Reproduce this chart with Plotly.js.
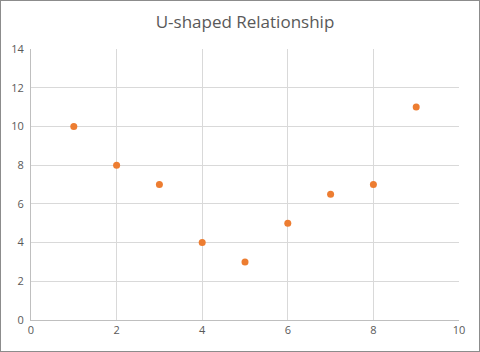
<!DOCTYPE html>
<html>
<head>
<meta charset="utf-8">
<script src="https://cdn.plot.ly/plotly-3.0.1.min.js"></script>
<style>
html,body{margin:0;padding:0;background:#fff;}
#frame{position:absolute;left:0;top:0;width:480px;height:352px;box-sizing:border-box;border:1px solid #8c8c8c;}
#chart{position:absolute;left:1px;top:1px;width:478px;height:350px;}
</style>
</head>
<body>
<div id="frame"></div>
<div id="chart"></div>
<script>
const xValues = [1, 2, 3, 4, 5, 6, 7, 8, 9];
const yValues = [10, 8, 7, 4, 3, 5, 6.5, 7, 11];
const chartTitle = "U-shaped Relationship";

const font = "Open Sans, Liberation Sans, sans-serif";
Plotly.newPlot('chart', [{
  type: 'scatter',
  mode: 'markers',
  x: xValues,
  y: yValues,
  marker: {color: '#ED7D31', size: 7},
  hoverinfo: 'none'
}], {
  width: 478, height: 350,
  margin: {l: 30, r: 20, t: 48, b: 31, pad: 0},
  paper_bgcolor: '#fff', plot_bgcolor: '#fff',
  showlegend: false,
  title: {text: chartTitle, x: 0.5, xanchor: 'center', xref: 'paper', y: 0.94, yref: 'container', yanchor: 'middle',
          font: {family: font, size: 17, color: '#595959'}},
  xaxis: {range: [0, 10], dtick: 2, tick0: 0, showgrid: true, gridcolor: '#d9d9d9', gridwidth: 1,
          zeroline: false, showline: true, linecolor: '#bfbfbf', linewidth: 1, mirror: false,
          ticks: '', tickfont: {family: font, size: 11, color: '#595959'}, fixedrange: true},
  yaxis: {range: [0, 14], dtick: 2, tick0: 0, showgrid: true, gridcolor: '#d9d9d9', gridwidth: 1,
          zeroline: false, showline: true, linecolor: '#bfbfbf', linewidth: 1,
          ticks: '', ticklabelstandoff: 4, tickfont: {family: font, size: 11, color: '#595959'}, fixedrange: true}
}, {displayModeBar: false, staticPlot: true});
</script>
</body>
</html>
